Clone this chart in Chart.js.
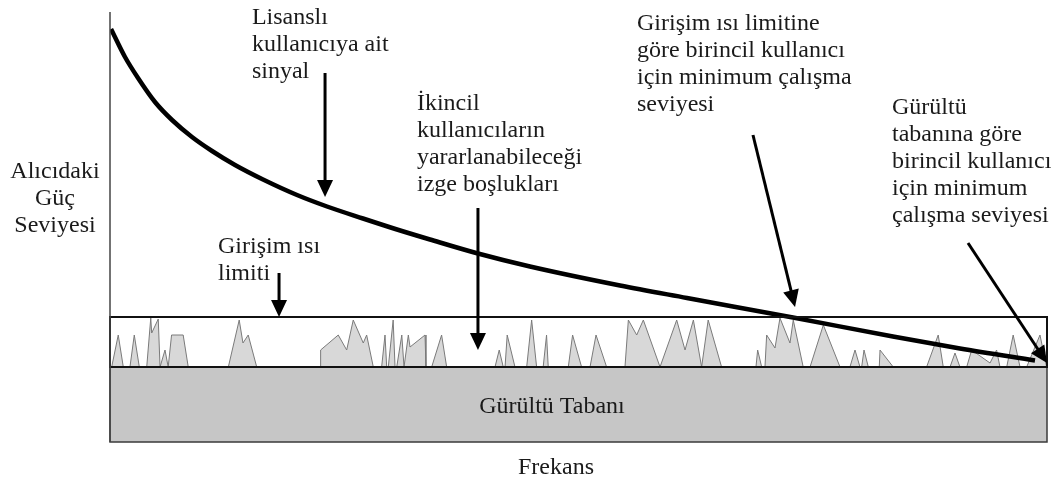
<!DOCTYPE html>
<html>
<head>
<meta charset="utf-8">
<script src="https://cdn.jsdelivr.net/npm/chart.js@4"></script>
<style>
html,body{margin:0;padding:0;background:#fff;}
canvas{display:block;}
</style>
</head>
<body>
<canvas id="c" width="1060" height="481"></canvas>
<script>
// ---- data (frequency 0..100, received power 0..86, arbitrary units) ----
const signalX = [0.11, 1.60, 2.99, 4.80, 6.62, 8.75, 10.89, 13.34, 16.33, 19.96, 23.16, 27.00, 30.63, 34.15, 39.27, 44.82, 54.43, 61.58, 72.89, 83.56, 90.71, 98.72];
const signalY = [82.6, 77.0, 72.8, 68.0, 64.4, 61.0, 58.2, 55.4, 52.5, 49.4, 47.1, 44.7, 42.5, 40.5, 37.7, 35.1, 31.3, 28.8, 24.9, 21.1, 18.7, 16.3];

const noiseFloor = 15;
const interferenceLimit = 25;
const powerMax = 86;
const freqMin = 0, freqMax = 100;

const spikeX = [
0.18,0.88,1.42,
2.13,2.59,3.13,
3.92,4.35,4.45,5.15,5.34,
5.87,6.21,
6.57,7.81,8.35,
12.63,13.79,14.19,14.75,15.66,
22.48,22.48,24.36,25.26,25.96,27.03,27.39,28.10,
28.99,29.35,29.53,
29.70,30.22,30.42,
30.60,31.14,31.38,
31.48,31.84,32.02,33.62,33.72,
34.33,35.39,35.93,
41.09,41.54,41.97,
42.16,42.39,43.22,
44.47,45.00,45.53,
46.23,46.59,46.77,
48.91,49.37,50.33,
51.23,51.87,53.00,
54.96,55.32,56.21,56.92,58.70,
60.48,61.37,62.26,63.14,
63.84,65.27,
68.94,69.12,69.55,
69.90,70.08,70.97,71.50,72.57,72.92,73.98,
74.71,76.13,77.91,
78.97,79.51,80.04,
80.22,80.47,80.93,
82.10,82.18,83.59,
87.15,88.39,88.93,
89.65,90.18,90.71,
91.43,91.96,93.92,94.62,94.98,
95.70,96.39,97.12,
97.83,99.25,99.96
];
const spikeY = [
15,21.4,15,
15,21.4,15,
15,24.8,21.8,24.6,15,
18.4,15,
21.4,21.4,15,
15,24.4,19.8,21.4,15,
15,18.4,21.4,18.4,24.4,19.8,21.4,15,
15,21.4,15,
15,24.4,15,
15,21.4,15,
15,21.4,19.0,21.4,15,
15,21.4,15,
15,18.4,15,
15,21.4,15,
15,24.4,15,
15,21.4,15,
15,21.4,15,
15,21.4,15,
15,24.4,21.4,24.4,15,
24.4,18.4,24.4,15,
24.4,15,
15,18.4,15,
15,21.4,18.8,24.8,19.8,24.4,15,
15,23.4,15,
15,18.4,15,
15,18.4,15,
15,18.4,15,
15,21.4,15,
15,17.8,15,
15,18.4,15.8,18.4,15,
15,21.4,15,
15,21.4,15
];

// annotation texts
const labelSignal = ["Lisanslı", "kullanıcıya ait", "sinyal"];
const labelHoles = ["İkincil", "kullanıcıların", "yararlanabileceği", "izge boşlukları"];
const labelLimit = ["Girişim ısı", "limiti"];
const labelMinLimit = ["Girişim ısı limitine", "göre birincil kullanıcı", "için minimum çalışma", "seviyesi"];
const labelMinFloor = ["Gürültü", "tabanına göre", "birincil kullanıcı", "için minimum", "çalışma seviyesi"];
const labelYAxis = ["Alıcıdaki", "Güç", "Seviyesi"];
const labelFloor = ["Gürültü Tabanı"];
const labelXAxis = ["Frekans"];

// arrows: [fromX, fromY, toX, toY] in data units
const arrowSignal = [22.95, 73.8, 22.95, 49.0];
const arrowHoles = [39.27, 46.8, 39.27, 18.4];
const arrowLimit = [18.04, 33.8, 18.04, 25.0];
const arrowMinLimit = [68.62, 61.4, 73.11, 27.0];
const arrowMinFloor = [91.57, 39.8, 100, 15.8];

// ---- layout (positions of text blocks, data units) ----
const textLayout = [
  {lines: labelSignal, x: 15.15, y: 84.8, align: 'left'},
  {lines: labelHoles, x: 32.76, y: 67.6, align: 'left'},
  {lines: labelLimit, x: 11.53, y: 39.0, align: 'left'},
  {lines: labelMinLimit, x: 56.24, y: 83.6, align: 'left'},
  {lines: labelMinFloor, x: 83.46, y: 66.8, align: 'left'},
  {lines: labelYAxis, x: -5.87, y: 54.0, align: 'center'},
  {lines: labelFloor, x: 47.17, y: 7.0, align: 'center'},
  {lines: labelXAxis, x: 47.6, y: -5.2, align: 'center'}
];
const arrows = [arrowSignal, arrowHoles, arrowLimit, arrowMinLimit, arrowMinFloor];

const signalPts = signalX.map((x, i) => ({x, y: signalY[i]}));
const spikePts = spikeX.map((x, i) => ({x, y: spikeY[i]}));

const diagram = {
  id: 'diagram',
  beforeDatasetsDraw(chart) {
    const {ctx, scales: {x, y}} = chart;
    const l = x.getPixelForValue(freqMin), r = x.getPixelForValue(freqMax);
    const t = y.getPixelForValue(noiseFloor), b = y.getPixelForValue(0);
    ctx.save();
    ctx.fillStyle = '#c6c6c6';
    ctx.fillRect(l, t, r - l, b - t);
    ctx.restore();
  },
  afterDatasetsDraw(chart) {
    const {ctx, scales: {x, y}} = chart;
    const l = x.getPixelForValue(freqMin), r = x.getPixelForValue(freqMax);
    const f = y.getPixelForValue(noiseFloor), b = y.getPixelForValue(0);
    const lim = y.getPixelForValue(interferenceLimit);
    ctx.save();
    ctx.strokeStyle = '#3a3a3a';
    ctx.lineWidth = 1.5;
    ctx.strokeRect(l, f, r - l, b - f);
    ctx.strokeStyle = '#111';
    ctx.lineWidth = 2;
    ctx.strokeRect(l, lim, r - l, f - lim);
    ctx.strokeStyle = '#444';
    ctx.lineWidth = 1.5;
    ctx.beginPath();
    ctx.moveTo(l, y.getPixelForValue(powerMax));
    ctx.lineTo(l, b);
    ctx.stroke();
    ctx.strokeStyle = '#000';
    ctx.fillStyle = '#000';
    arrows.forEach(a => {
      const x1 = x.getPixelForValue(a[0]), y1 = y.getPixelForValue(a[1]);
      const x2 = x.getPixelForValue(a[2]), y2 = y.getPixelForValue(a[3]);
      const dx = x2 - x1, dy = y2 - y1, len = Math.hypot(dx, dy);
      const ux = dx / len, uy = dy / len;
      const hl = 17, hw = 8;
      const bx = x2 - ux * hl, by = y2 - uy * hl;
      ctx.lineWidth = 3;
      ctx.beginPath();
      ctx.moveTo(x1, y1);
      ctx.lineTo(bx + ux * 2, by + uy * 2);
      ctx.stroke();
      ctx.beginPath();
      ctx.moveTo(x2, y2);
      ctx.lineTo(bx - uy * hw, by + ux * hw);
      ctx.lineTo(bx + uy * hw, by - ux * hw);
      ctx.closePath();
      ctx.fill();
    });
    ctx.fillStyle = '#1a1a1a';
    ctx.font = '24px "Liberation Serif", "Times New Roman", serif';
    ctx.textBaseline = 'middle';
    textLayout.forEach(tb => {
      ctx.textAlign = tb.align;
      const px = x.getPixelForValue(tb.x);
      const py = y.getPixelForValue(tb.y);
      tb.lines.forEach((line, i) => ctx.fillText(line, px, py + i * 27));
    });
    ctx.restore();
  }
};

new Chart(document.getElementById('c'), {
  type: 'line',
  data: {
    datasets: [
      {
        label: 'Lisanslı kullanıcıya ait sinyal',
        data: signalPts,
        borderColor: '#000',
        borderWidth: 4.5,
        pointRadius: 0,
        fill: false,
        cubicInterpolationMode: 'monotone',
        order: 0
      },
      {
        label: 'Girişim',
        data: spikePts,
        borderColor: '#7a7a7a',
        borderWidth: 1,
        backgroundColor: '#d8d8d8',
        pointRadius: 0,
        tension: 0,
        fill: {value: noiseFloor},
        order: 1
      }
    ]
  },
  options: {
    responsive: false,
    animation: false,
    devicePixelRatio: 1,
    layout: {padding: {left: 110, right: 13, top: 12, bottom: 39}},
    scales: {
      x: {type: 'linear', min: freqMin, max: freqMax, display: false},
      y: {type: 'linear', min: 0, max: powerMax, display: false}
    },
    plugins: {legend: {display: false}, tooltip: {enabled: false}}
  },
  plugins: [diagram]
});
</script>
</body>
</html>
